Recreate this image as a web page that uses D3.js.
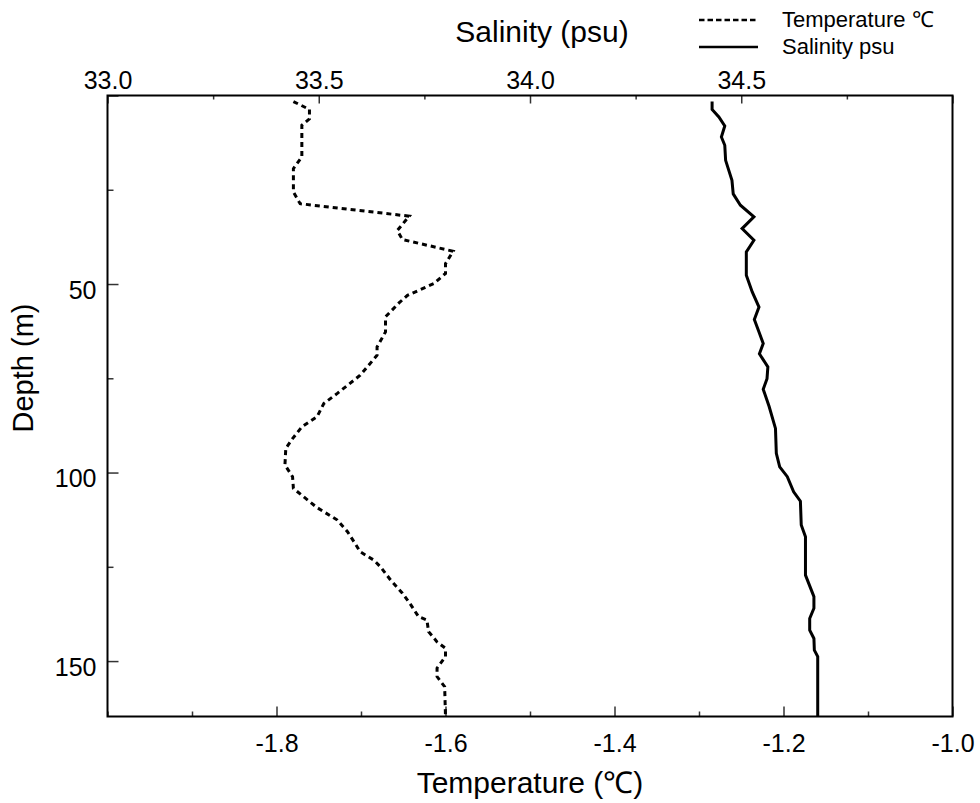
<!DOCTYPE html>
<html>
<head>
<meta charset="utf-8">
<script src="https://cdn.jsdelivr.net/npm/d3@7"></script>
<style>
  html, body { margin: 0; padding: 0; background: #fff; }
  svg { display: block; font-family: "Liberation Sans", Arial, Helvetica, sans-serif; }
</style>
</head>
<body>
<svg id="chart" width="980" height="803"></svg>
<script>
// ---- Data ----
const tempDepth = [1.6, 3.7, 6.2, 7.9, 16.3, 19.4, 25.6, 28.7, 32.0, 35.8, 38.2, 41.3, 44.6, 47.2, 49.9, 53.0,
  55.0, 58.7, 62.7, 66.7, 68.9, 74.2, 79.0, 81.7, 85.2, 87.9, 91.0, 93.6, 98.0, 101.1, 104.2, 106.4,
  109.3, 112.6, 115.7, 118.8, 121.0, 123.2, 125.0, 128.5, 132.0, 135.1, 138.2, 139.1, 142.2, 144.9,
  146.6, 148.8, 151.9, 154.1, 156.8, 164.7];
const tempValue = [-1.780, -1.761, -1.761, -1.770, -1.770, -1.780, -1.780, -1.772, -1.643, -1.657, -1.651, -1.591,
  -1.600, -1.600, -1.614, -1.645, -1.655, -1.671, -1.671, -1.681, -1.681, -1.701, -1.728, -1.744, -1.752,
  -1.770, -1.781, -1.789, -1.790, -1.781, -1.780, -1.768, -1.752, -1.728, -1.716, -1.707, -1.701, -1.685,
  -1.677, -1.665, -1.651, -1.641, -1.632, -1.622, -1.620, -1.610, -1.600, -1.600, -1.610, -1.610, -1.601, -1.600];

const salDepth = [1.6, 3.7, 5.7, 8.1, 11.0, 13.2, 17.2, 22.5, 26.1, 29.1, 32.2, 35.3, 38.4, 41.5, 47.7, 52.1,
  56.1, 59.4, 62.7, 65.8, 68.5, 72.0, 75.1, 77.9, 82.5, 88.3, 94.9, 98.5, 101.1, 105.1, 107.6, 113.9, 117.0,
  127.2, 132.9, 136.0, 138.7, 141.8, 144.0, 147.1, 148.8, 164.7];
const salValue = [34.431, 34.431, 34.447, 34.461, 34.453, 34.461, 34.463, 34.478, 34.481, 34.498, 34.530, 34.502,
  34.530, 34.512, 34.512, 34.526, 34.542, 34.531, 34.542, 34.552, 34.543, 34.563, 34.561, 34.552, 34.566,
  34.581, 34.583, 34.591, 34.609, 34.624, 34.640, 34.642, 34.652, 34.652, 34.672, 34.672, 34.662, 34.662,
  34.672, 34.673, 34.681, 34.681];

const tempTicks = [-2.0, -1.9, -1.8, -1.7, -1.6, -1.5, -1.4, -1.3, -1.2, -1.1, -1.0];
const tempLabels = ["", "", "-1.8", "", "-1.6", "", "-1.4", "", "-1.2", "", "-1.0"];
const salTicks = [33.0, 33.25, 33.5, 33.75, 34.0, 34.25, 34.5, 34.75, 35.0];
const salLabels = ["33.0", "", "33.5", "", "34.0", "", "34.5", "", ""];
const depthTicks = [0, 25, 50, 75, 100, 125, 150];
const depthLabels = ["", "", "50", "", "100", "", "150"];

const legendLabels = ["Temperature \u2103", "Salinity psu"];
const titles = { top: "Salinity (psu)", bottom: "Temperature (\u2103)", left: "Depth (m)" };

// ---- Layout ----
const L = 107.5, R = 952.5, T = 95.5, B = 716.5;
const svg = d3.select("#chart");

const x = d3.scaleLinear().domain([-2.0, -1.0]).range([L, R]);
const xs = d3.scaleLinear().domain([33.0, 35.0]).range([L, R]);
const y = d3.scaleLinear().domain([0, 164.7]).range([T, B]);

// bottom axis
const gB = svg.append("g").attr("transform", `translate(0,${B})`)
  .call(d3.axisBottom(x).tickValues(tempTicks).tickSize(-10).tickPadding(18)
    .tickFormat((d, i) => tempLabels[i]));
gB.selectAll(".tick line").attr("y2", (d, i) => tempLabels[i] ? -10 : -5);

// top axis
const gT = svg.append("g").attr("transform", `translate(0,${T})`)
  .call(d3.axisTop(xs).tickValues(salTicks).tickSize(-8).tickPadding(7)
    .tickFormat((d, i) => salLabels[i]));
gT.selectAll(".tick line").attr("y2", (d, i) => (i % 2 === 0) ? 8 : 4);

// left axis
const gL = svg.append("g").attr("transform", `translate(${L},0)`)
  .call(d3.axisLeft(y).tickValues(depthTicks).tickSize(-11).tickPadding(11)
    .tickFormat((d, i) => depthLabels[i]));
gL.selectAll(".tick line").attr("x2", (d, i) => (i % 2 === 0) ? 11 : 6);
gL.selectAll(".tick text").attr("dy", "14px");

[gB, gT, gL].forEach(g => {
  g.select(".domain").remove();
  g.selectAll(".tick line").attr("stroke", "#333").attr("stroke-width", 1.5);
  g.selectAll(".tick text").attr("font-size", 25).attr("fill", "#000")
    .attr("font-family", "'Liberation Sans', Arial, Helvetica, sans-serif");
});

// frame
svg.append("rect").attr("x", L).attr("y", T).attr("width", R - L).attr("height", B - T)
  .attr("fill", "none").attr("stroke", "#000").attr("stroke-width", 2);

// lines
const tempData = tempDepth.map((d, i) => [tempValue[i], d]);
const salData = salDepth.map((d, i) => [salValue[i], d]);

svg.append("path").datum(tempData)
  .attr("d", d3.line().x(d => x(d[0])).y(d => y(d[1])))
  .attr("fill", "none").attr("stroke", "#000").attr("stroke-width", 3)
  .attr("stroke-dasharray", "5,4");

svg.append("path").datum(salData)
  .attr("d", d3.line().x(d => xs(d[0])).y(d => y(d[1])))
  .attr("fill", "none").attr("stroke", "#000").attr("stroke-width", 3)
  .attr("stroke-linejoin", "miter");

// titles
svg.append("text").attr("x", 542).attr("y", 42).attr("text-anchor", "middle")
  .attr("font-size", 30).text(titles.top);
svg.append("text").attr("x", 530).attr("y", 793).attr("text-anchor", "middle")
  .attr("font-size", 30).text(titles.bottom);
svg.append("text").attr("transform", "translate(33,368) rotate(-90)").attr("text-anchor", "middle")
  .attr("font-size", 29).text(titles.left);

// legend
const leg = svg.append("g");
const legY = [20, 47];
const legText = [27, 54];
leg.append("line").attr("x1", 699).attr("x2", 758).attr("y1", legY[0]).attr("y2", legY[0])
  .attr("stroke", "#000").attr("stroke-width", 2.5).attr("stroke-dasharray", "5.5,3");
leg.append("line").attr("x1", 699).attr("x2", 758).attr("y1", legY[1]).attr("y2", legY[1])
  .attr("stroke", "#000").attr("stroke-width", 2.5);
legendLabels.forEach((t, i) => {
  leg.append("text").attr("x", 782).attr("y", legText[i]).attr("font-size", 22).text(t);
});
</script>
</body>
</html>
